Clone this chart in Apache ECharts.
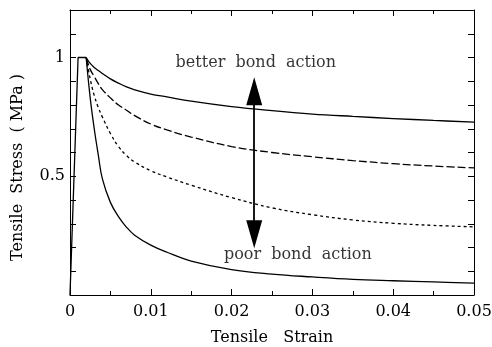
<!DOCTYPE html>
<html>
<head>
<meta charset="utf-8">
<script src="https://cdn.jsdelivr.net/npm/echarts@6/dist/echarts.min.js"></script>
<style>
  html, body { margin: 0; padding: 0; background: #fff; }
  #chart { width: 492px; height: 347px; }
</style>
</head>
<body>
<div id="chart"></div>
<script>
// strain values (x)
var strain = [0, 0.001, 0.002, 0.0025, 0.003, 0.0035, 0.004, 0.005, 0.006, 0.007, 0.008,
  0.01, 0.012, 0.015, 0.02, 0.025, 0.03, 0.035, 0.04, 0.045, 0.05];
// tensile stress (MPa), one array per bond case
var stressBetter = [0, 1, 1, 0.975, 0.958, 0.945, 0.933, 0.91, 0.892, 0.876, 0.864,
  0.846, 0.834, 0.816, 0.793, 0.776, 0.762, 0.752, 0.743, 0.735, 0.728];
var stressGood = [0, 1, 1, 0.95, 0.92, 0.89, 0.865, 0.83, 0.80, 0.778, 0.755,
  0.72, 0.695, 0.665, 0.625, 0.60, 0.582, 0.566, 0.553, 0.543, 0.535];
var stressFair = [0, 1, 1, 0.91, 0.84, 0.79, 0.75, 0.68, 0.625, 0.587, 0.56,
  0.523, 0.497, 0.462, 0.41, 0.367, 0.338, 0.316, 0.302, 0.293, 0.287];
var stressPoor = [0, 1, 1, 0.83, 0.70, 0.59, 0.49, 0.39, 0.33, 0.285, 0.252,
  0.21, 0.18, 0.143, 0.107, 0.088, 0.076, 0.066, 0.06, 0.055, 0.05];
// annotation (arrow head centres)
var arrowX = 0.0228;
var arrowY = [0.858, 0.256];
var notes = [
  { text: "better  bond  action", x: 0.023, y: 0.976 },
  { text: "poor  bond  action", x: 0.0282, y: 0.167 }
];

var FONT = "DejaVu Serif";
var PEAK_END = 2; // index where the plateau ends and softening starts

function pairs(ys) {
  return strain.map(function (x, i) { return [x, ys[i]]; });
}

function part(ys, type, soft) {
  var d = pairs(ys);
  return {
    type: "line",
    data: soft ? d.slice(PEAK_END) : d.slice(0, PEAK_END + 1),
    smooth: soft ? 0.4 : false,
    symbol: "none",
    lineStyle: { color: "#000", width: 1.3, type: type },
    silent: true
  };
}

var myChart = echarts.init(document.getElementById("chart"));

var axisCommon = {
  axisLine: { show: true, onZero: false, lineStyle: { color: "#000", width: 1 } },
  splitLine: { show: false }
};
var tickX = { show: true, inside: true, length: 6, lineStyle: { color: "#000" } };
var minorX = { show: true, splitNumber: 2, length: 4, lineStyle: { color: "#000" } };
var tickY = { show: true, inside: true, length: 6, lineStyle: { color: "#000" } };

var option = {
  animation: false,
  grid: { left: 70, right: 18, top: 10, bottom: 52, outerBoundsMode: "none", containLabel: false },
  xAxis: [
    Object.assign({}, axisCommon, {
      type: "value",
      min: 0,
      max: 0.05,
      interval: 0.01,
      name: "Tensile   Strain",
      nameLocation: "middle",
      nameGap: 35,
      nameTextStyle: { fontFamily: FONT, fontSize: 16, color: "#000" },
      axisTick: tickX,
      minorTick: minorX,
      axisLabel: { fontFamily: FONT, fontSize: 16, color: "#000", margin: 9 }
    }),
    Object.assign({}, axisCommon, {
      type: "value",
      position: "top",
      min: 0,
      max: 0.05,
      interval: 0.01,
      axisTick: tickX,
      minorTick: minorX,
      axisLabel: { show: false }
    })
  ],
  yAxis: [
    Object.assign({}, axisCommon, {
      type: "value",
      min: 0,
      max: 1.2,
      interval: 0.1,
      name: "Tensile  Stress  ( MPa )",
      nameLocation: "middle",
      nameGap: 44,
      nameTextStyle: { fontFamily: FONT, fontSize: 16, color: "#000", padding: [0, 30, 0, 0] },
      axisTick: tickY,
      axisLabel: {
        fontFamily: FONT, fontSize: 16, color: "#000", margin: 5,
        formatter: function (v) {
          var r = Math.round(v * 10) / 10;
          if (r === 0.5) return "0.5";
          if (r === 1) return "1";
          return "";
        }
      }
    }),
    Object.assign({}, axisCommon, {
      type: "value",
      position: "right",
      min: 0,
      max: 1.2,
      interval: 0.1,
      axisTick: tickY,
      axisLabel: { show: false }
    })
  ],
  series: [
    part(stressBetter, "solid", false),
    part(stressBetter, "solid", true),
    part(stressGood, [8, 3], true),
    part(stressFair, [3, 3], true),
    part(stressPoor, "solid", true),
    {
      type: "line",
      data: [[arrowX, arrowY[0]], [arrowX, arrowY[1]]],
      symbol: "none",
      lineStyle: { width: 0 },
      silent: true,
      markLine: {
        silent: true,
        symbol: ["triangle", "triangle"],
        symbolSize: [16, 28],
        label: { show: false },
        lineStyle: { color: "#000", width: 1.8, type: "solid" },
        itemStyle: { color: "#1a1a1a" },
        emphasis: { disabled: true },
        data: [[{ coord: [arrowX, arrowY[0]] }, { coord: [arrowX, arrowY[1]] }]]
      }
    },
    {
      type: "scatter",
      symbolSize: 0,
      silent: true,
      data: notes.map(function (n) { return { value: [n.x, n.y], name: n.text }; }),
      label: {
        show: true,
        position: "inside",
        formatter: function (p) { return p.name; },
        fontFamily: FONT,
        fontSize: 16,
        color: "#000"
      }
    }
  ]
};

myChart.setOption(option);
</script>
</body>
</html>
